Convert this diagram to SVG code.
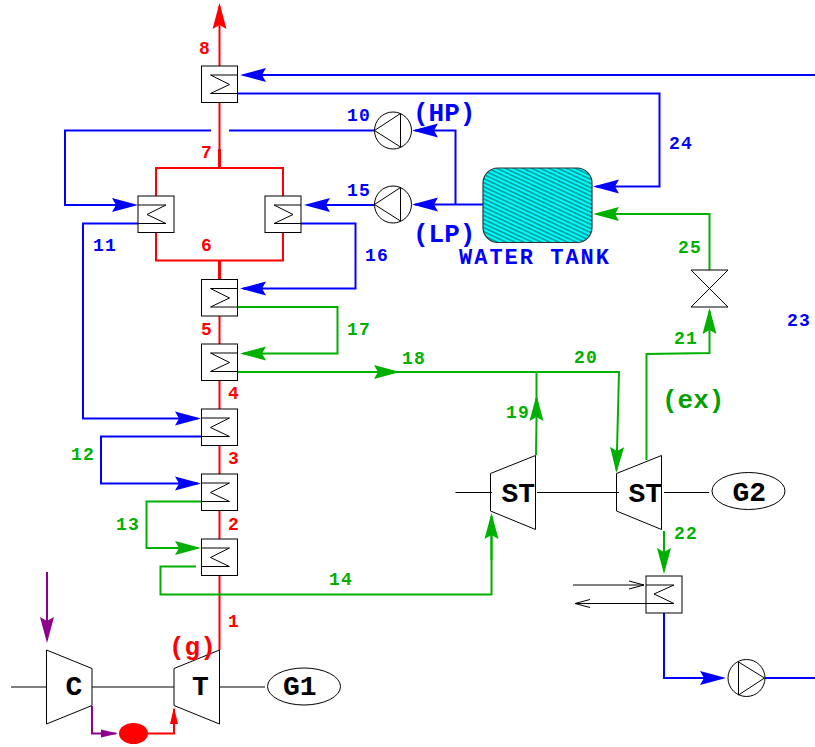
<svg xmlns="http://www.w3.org/2000/svg" width="815" height="747" viewBox="0 0 815 747">
<style>
.c{fill:none;stroke-width:2;stroke-linejoin:miter}
.b{stroke:#0000ff}.g{stroke:#00b000}.r{stroke:#ff0000}.p{stroke:#8e008e}
.bm{marker-end:url(#ab)}.gm{marker-end:url(#ag)}.rm{marker-end:url(#ar)}
.k{fill:none;stroke:#000;stroke-width:1}
.w{fill:#fff;stroke:#000;stroke-width:1}
.s{font-family:"Liberation Mono",monospace;font-weight:bold;font-size:18px;letter-spacing:1.2px}
.l{font-family:"Liberation Mono",monospace;font-weight:bold;font-size:26px}
.big{font-family:"Liberation Mono",monospace;font-weight:bold;font-size:28px;fill:#000}
.tb{fill:#0000ff}.tg{fill:#00b000}.tr{fill:#ff0000}
</style>
<defs>
<marker id="ab" markerUnits="userSpaceOnUse" markerWidth="30" markerHeight="16" refX="23" refY="8" orient="auto"><path d="M26 8L0 1L4 8L0 15Z" fill="#0000ff"/></marker>
<marker id="ag" markerUnits="userSpaceOnUse" markerWidth="30" markerHeight="16" refX="23" refY="8" orient="auto"><path d="M26 8L0 1L4 8L0 15Z" fill="#00b000"/></marker>
<marker id="ar" markerUnits="userSpaceOnUse" markerWidth="30" markerHeight="16" refX="23" refY="8" orient="auto"><path d="M26 8L0 1L4 8L0 15Z" fill="#ff0000"/></marker>
<marker id="ap" markerUnits="userSpaceOnUse" markerWidth="30" markerHeight="16" refX="23" refY="8" orient="auto"><path d="M26 8L0 1L4 8L0 15Z" fill="#8e008e"/></marker>
<marker id="sp" markerUnits="userSpaceOnUse" markerWidth="20" markerHeight="12" refX="15" refY="5" orient="auto"><path d="M17 5L0 1L0 9Z" fill="#8e008e"/></marker>
<marker id="sr" markerUnits="userSpaceOnUse" markerWidth="20" markerHeight="12" refX="15" refY="5" orient="auto"><path d="M17 5L0 1L0 9Z" fill="#ff0000"/></marker>
<marker id="ok" markerUnits="userSpaceOnUse" markerWidth="20" markerHeight="12" refX="15" refY="5" orient="auto"><path d="M0 1L15 5L0 9" fill="none" stroke="#000" stroke-width="1"/></marker>
<pattern id="h" patternUnits="userSpaceOnUse" width="3.700" height="3.700" patternTransform="rotate(25)"><rect width="3.700" height="3.700" fill="#00ffff"/><path d="M0 1.850H3.700" stroke="#005a5a" stroke-width="1"/></pattern>
<g id="hxR"><rect class="w" width="36" height="36.500"/><path class="k" d="M36 9H9L28 18.500L9 27.500H36"/></g>
<g id="hxL"><rect class="w" width="36" height="36.500"/><path class="k" d="M0 9H28L9 18.500L28 27.500H0"/></g>
</defs>

<g id="connectors">
<path class="c r" d="M219.500 66V6" marker-end="url(#ar)"/>
<path class="c r" d="M219.500 102V168"/>
<path class="c r" d="M156 196V168H283V196M156 232V260.500H283V232"/>
<path class="c r" style="stroke-width:3" d="M219.500 149V168M219.500 260V279"/>
<path class="c r" d="M219.500 316V344M219.500 381V409M219.500 446V474M219.500 511V539M219.500 575V650"/>
<path class="c b bm" d="M815 75H243"/>
<path class="c b bm" d="M237 93.500H659.500V186.500H596"/>
<path class="c b" d="M374 130.500H229M211 130.500H65V205H70"/>
<path class="c b bm" d="M65 205H135"/>
<path class="c b bm" d="M483 204.500H415"/>
<path class="c b bm" d="M455.500 204.500V130.500H415"/>
<path class="c b bm" d="M374 205H307"/>
<path class="c b bm" d="M301 223.500H355.500V288.500H243"/>
<path class="c b bm" d="M138 223.500H83V418.500H198"/>
<path class="c b bm" d="M201 436.500H101V483.500H198"/>
<path class="c g gm" d="M201 501.500H146.500V548H198"/>
<path class="c g" d="M196 566.500H160.500V594.500H491.500V520"/>
<path class="c g gm" d="M491.500 560V516"/>
<path class="c g gm" d="M237 307H337.500V353.500H243"/>
<path class="c g gm" d="M237 372H397"/>
<path class="c g gm" d="M390 372H619L616.500 470"/>
<path class="c g gm" d="M536 455L536.500 420V398"/>
<path class="c g" d="M536.500 372V400"/>
<path class="c g gm" d="M646.500 460V354L709.500 353V311"/>
<path class="c g gm" d="M709.500 270V214H596"/>
<path class="c g gm" d="M664 531V571"/>
<path class="c b bm" d="M664 613V678H723"/>
<path class="c b" d="M765 678H815"/>
<path class="c p" d="M47 572V640" marker-end="url(#ap)"/>
<path class="c p" d="M92 706V733.500H116" marker-end="url(#sp)"/>
<path class="c r" d="M148 733.500H174V709" marker-end="url(#sr)"/>
<path class="k" d="M573 585H644" marker-end="url(#ok)"/>
<path class="k" d="M674 603.500H575" marker-end="url(#ok)"/>
<path class="k" d="M11 687H46.500M92 687H174M219.500 687H265M455.500 492.500H492M537 492.500H619M664 492.500H709"/>
</g>

<g id="hx-top"><use href="#hxR" x="201.500" y="66"/></g>
<g id="hx-left"><use href="#hxL" x="138" y="196"/></g>
<g id="hx-right"><use href="#hxR" x="265" y="196"/></g>
<g id="hx-5"><use href="#hxR" x="201.500" y="279.500"/></g>
<g id="hx-4"><use href="#hxR" x="201.500" y="344"/></g>
<g id="hx-3"><use href="#hxL" x="201.500" y="409"/></g>
<g id="hx-2"><use href="#hxL" x="201.500" y="474"/></g>
<g id="hx-1"><use href="#hxL" x="201.500" y="539"/></g>
<g id="condenser"><rect class="w" x="646" y="576" width="36" height="37"/><path class="k" d="M646 585H674L654 594L674 603.500H646"/></g>

<g id="pump-hp"><circle class="w" cx="393" cy="130.500" r="18.500"/><path class="k" d="M400.500 113.500L374.500 130.500L400.500 147V113.500"/></g>
<g id="pump-lp"><circle class="w" cx="393" cy="204.500" r="18.500"/><path class="k" d="M400.500 187.500L374.500 204.500L400.500 221V187.500"/></g>
<g id="pump-out"><circle class="w" cx="746.500" cy="678" r="18.500"/><path class="k" d="M738.500 662V695L764.500 678Z"/></g>
<g id="tank"><rect x="483" y="168" width="109" height="74.500" rx="15" fill="url(#h)" stroke="#333" stroke-width="1.200"/></g>
<g id="valve"><path class="k" d="M691 270H728L691 307H728Z"/></g>
<g id="compressor"><path class="k" d="M46.500 650L92 668.500V705.500L46.500 724Z"/><text class="big" x="65.500" y="695">C</text></g>
<g id="turbine"><path class="k" d="M219.500 650L174 668.500V705.500L219.500 724Z"/><text class="big" x="192" y="695">T</text></g>
<g id="g1"><ellipse class="k" cx="304" cy="686.500" rx="36.500" ry="18.500"/><text class="big" x="283" y="695">G1</text></g>
<g id="st1"><path class="k" d="M535.500 455.500L490.500 473.500V511L535.500 529.500Z"/><text class="big" x="501.500" y="502">ST</text></g>
<g id="st2"><path class="k" d="M661.500 455.500L616.500 473.500V511L661.500 529.500Z"/><text class="big" x="628.500" y="502">ST</text></g>
<g id="g2"><ellipse class="k" cx="748.500" cy="491" rx="36.500" ry="18.500"/><text class="big" x="732.500" y="501">G2</text></g>
<g id="combustor"><ellipse cx="133.500" cy="733.500" rx="14.500" ry="10.500" fill="#ff0000"/></g>

<g id="labels">
<text class="s tr" x="199" y="54">8</text>
<text class="s tr" x="201" y="158">7</text>
<text class="s tr" x="201" y="251">6</text>
<text class="s tr" x="201" y="335">5</text>
<text class="s tr" x="228" y="399">4</text>
<text class="s tr" x="228" y="464">3</text>
<text class="s tr" x="228" y="530">2</text>
<text class="s tr" x="228" y="627">1</text>
<text class="s tb" x="347" y="121">10</text>
<text class="s tb" x="347" y="196">15</text>
<text class="s tb" x="93" y="251">11</text>
<text class="s tb" x="365" y="261">16</text>
<text class="s tb" x="669" y="149">24</text>
<text class="s tb" x="787" y="326">23</text>
<text class="s tg" x="347" y="335">17</text>
<text class="s tg" x="402" y="364">18</text>
<text class="s tg" x="574" y="363">20</text>
<text class="s tg" x="506" y="418">19</text>
<text class="s tg" x="674" y="344">21</text>
<text class="s tg" x="674" y="539">22</text>
<text class="s tg" x="678" y="253">25</text>
<text class="s tg" x="71" y="460">12</text>
<text class="s tg" x="116" y="530">13</text>
<text class="s tg" x="329" y="585">14</text>
<text class="l tb" x="413" y="121">(HP)</text>
<text class="l tb" x="413" y="242">(LP)</text>
<text class="l tb" style="font-size:22px;letter-spacing:2px" x="459" y="264">WATER TANK</text>
<text class="l tr" x="169" y="655">(g)</text>
<text class="l" fill="#00a000" x="662" y="408">(ex)</text>
</g>
</svg>
